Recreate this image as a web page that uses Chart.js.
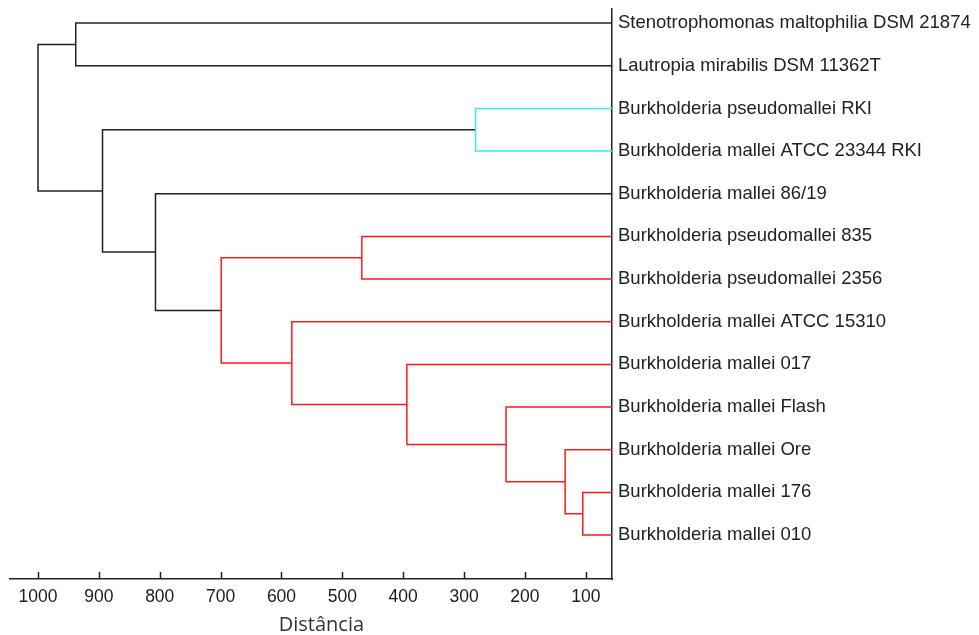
<!DOCTYPE html>
<html>
<head>
<meta charset="utf-8">
<script src="https://cdn.jsdelivr.net/npm/chart.js@4"></script>
<style>
html,body{margin:0;padding:0;background:#fff}
#c{display:block}
</style>
</head>
<body>
<canvas id="c" width="979" height="635"></canvas>
<script>
// folhas, de cima para baixo
var folhas = ["Stenotrophomonas maltophilia DSM 21874","Lautropia mirabilis DSM 11362T","Burkholderia pseudomallei RKI","Burkholderia mallei ATCC 23344 RKI","Burkholderia mallei 86/19","Burkholderia pseudomallei 835","Burkholderia pseudomallei 2356","Burkholderia mallei ATCC 15310","Burkholderia mallei 017","Burkholderia mallei Flash","Burkholderia mallei Ore","Burkholderia mallei 176","Burkholderia mallei 010"]
// fusoes: no 13, 14, ... (filho esquerdo, filho direito, distancia, cor)
var filhoA = [11,10,9,8,7,5,18,4,2,21,0,23]
var filhoB = [12,13,14,15,16,6,17,19,3,20,1,22]
var alturas = [105,134,231,394,583,468,699,807,281,894,938,1000]
var cores = ["red","red","red","red","red","red","red","black","cyan","black","black","black"]
var ticksX = [100,200,300,400,500,600,700,800,900,1000]
var minX = 57, maxX = 1046

var palette = {red:"#ff1a1a", cyan:"#33eeee", black:"#222"}
var fonte = "'Liberation Sans', Arial, sans-serif"
var posY = [], altNo = []
for(var i=0;i<folhas.length;i++){ posY[i]=i; altNo[i]=minX }
var datasets = []
for(var k=0;k<alturas.length;k++){
	var a = filhoA[k], b = filhoB[k], h = alturas[k]
	datasets.push({
		data:[{x:altNo[a],y:posY[a]},{x:h,y:posY[a]},{x:h,y:posY[b]},{x:altNo[b],y:posY[b]}],
		borderColor: palette[cores[k]], borderWidth:1.5, pointRadius:0, showLine:true, tension:0
	})
	posY.push((posY[a]+posY[b])/2)
	altNo.push(h)
}

var ticksDentro = {
	id:"ticksDentro",
	afterDraw:function(ch){
		var sx = ch.scales.x, ctx = ch.ctx, y0 = ch.chartArea.bottom
		ctx.save()
		ctx.strokeStyle = "#222"; ctx.lineWidth = 1.5
		ticksX.forEach(function(v){
			var px = Math.round(sx.getPixelForValue(v))+0.5
			ctx.beginPath(); ctx.moveTo(px,y0); ctx.lineTo(px,y0-7); ctx.stroke()
		})
		ctx.restore()
	}
}

new Chart("c",{type:"scatter",
	data:{datasets:datasets},
	plugins:[ticksDentro],
	options:{
		responsive:false, animation:false,
		layout:{padding:{left:10,top:9,right:0,bottom:0}},
		plugins:{legend:{display:false},tooltip:{enabled:false}},
		scales:{
			x:{type:"linear",reverse:true,min:minX,max:maxX,
				afterBuildTicks:function(s){ s.ticks = ticksX.map(function(v){return {value:v}}) },
				afterFit:function(s){ s.height = 56; s.paddingLeft = 0; s.paddingRight = 0 },
				grid:{display:false,drawTicks:false},
				border:{display:true,color:"#222",width:1.5},
				ticks:{color:"#1a1a2a",padding:8,font:{family:fonte,size:17.5},maxRotation:0,
					callback:function(v){ return String(v) }},
				title:{display:true,text:"    Distância",color:"#333",font:{family:"'Open Sans'",size:20,lineHeight:1},padding:{top:0,bottom:0}}
			},
			y:{type:"linear",position:"right",reverse:true,min:-0.33,max:13.03,
				afterBuildTicks:function(s){ s.ticks = folhas.map(function(f,i){return {value:i}}) },
				afterFit:function(s){ s.width = 367; s.paddingTop = 0; s.paddingBottom = 0 },
				grid:{display:false,drawTicks:false},
				border:{display:true,color:"#222",width:1.5},
				ticks:{color:"#222",padding:6,font:{family:fonte,size:18.5},
					callback:function(v){ return folhas[v] }}
			}
		}
	}
})
</script>
</body>
</html>
